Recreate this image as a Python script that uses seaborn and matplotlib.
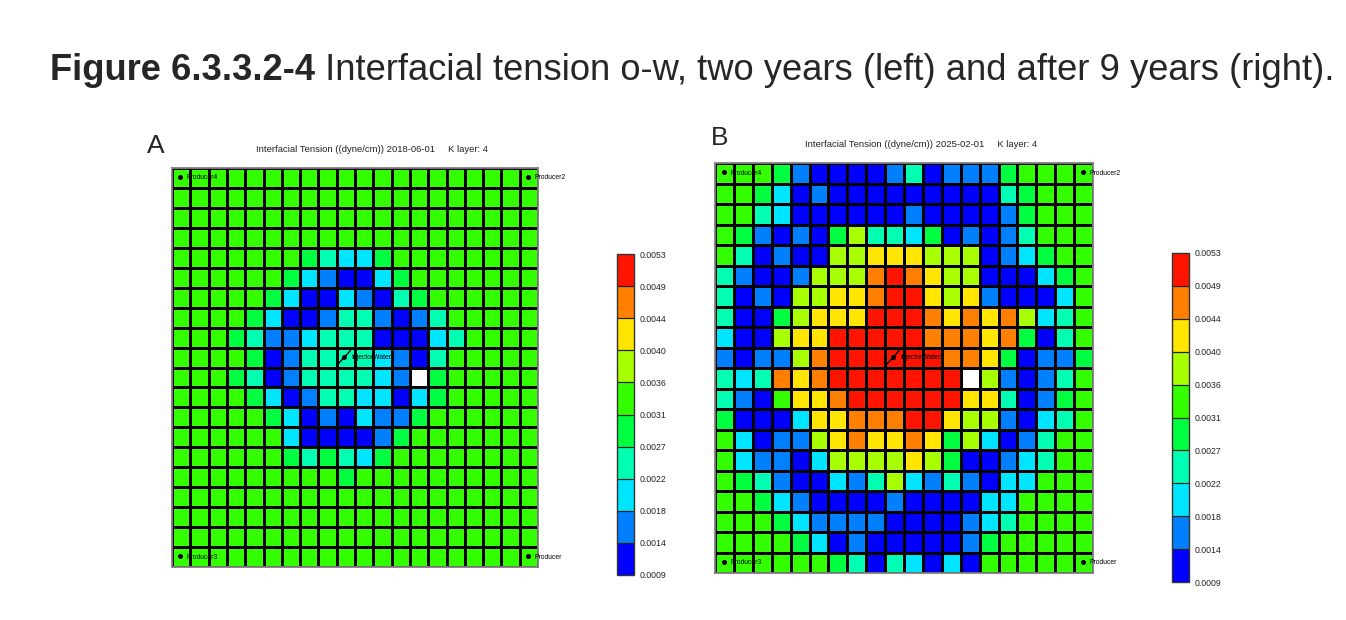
import numpy as np
import pandas as pd
import matplotlib
matplotlib.use("Agg")
import matplotlib.pyplot as plt
from matplotlib.colors import ListedColormap, BoundaryNorm
import seaborn as sns

sns.set_style("white")
plt.rcParams["font.family"] = ["Liberation Sans", "DejaVu Sans"]

# ---------------- data ----------------
level_bounds = [0.0009, 0.0014, 0.0018, 0.0022, 0.0027, 0.0031,
                0.0036, 0.0040, 0.0044, 0.0049, 0.0053]
level_labels = ["0.0009", "0.0014", "0.0018", "0.0022", "0.0027", "0.0031",
                "0.0036", "0.0040", "0.0044", "0.0049", "0.0053"]
level_colors = ["#0000FF", "#0080FF", "#00E5FF", "#00FFB2", "#00FF40",
                "#33FF00", "#A8FF00", "#FFE500", "#FF8000", "#FF1400"]
# representative tension of each colour band (dyne/cm)
level_values = [0.00115, 0.00160, 0.00200, 0.00245, 0.00290,
                0.00335, 0.00380, 0.00420, 0.00465, 0.00510]

# colour band read for each grid cell (row = J, column = I); W = inactive cell
grid_2018 = [
    "55555555555555555555",
    "55555555555555555555",
    "55555555555555555555",
    "55555555555555555555",
    "55555554322455555555",
    "55555542100245555555",
    "55555420021034555555",
    "55554200133101355555",
    "55543112333000235555",
    "55554013333210355555",
    "5554301333321W455555",
    "55554201332202455555",
    "55555420102114555555",
    "55555520000145555555",
    "55555543432455555555",
    "55555555545555555555",
    "55555555555555555555",
    "55555555555555555555",
    "55555555555555555555",
    "55555555555555555555",
]
grid_2025 = [
    "55541000013011145555",
    "55420100000000034555",
    "55320000001000014555",
    "54101046332401013555",
    "53010066777666012455",
    "31001666898766000245",
    "30106677899767100025",
    "30046777999878786235",
    "20067799999888784035",
    "10116899999988740114",
    "3238789999999W610135",
    "31057789999997730145",
    "40002778889976610235",
    "52011678778746201355",
    "52110266667640012355",
    "54310021362131022555",
    "55421000010000225555",
    "55542111100001235555",
    "55554201000001455555",
    "55555543032020555555",
]

well_names = ["Producer4", "Producer2", "Producer3", "Producer"]
well_cols = [0, 19, 0, 19]
well_rows = [0, 0, 19, 19]
injector_name = "InjectorWater2"
injector_col = 9
injector_row = 9

panel_letters = ["A", "B"]
panel_titles = ["Interfacial Tension ((dyne/cm)) 2018-06-01     K layer: 4",
                "Interfacial Tension ((dyne/cm)) 2025-02-01     K layer: 4"]


def to_frame(grid):
    vals = [[np.nan if ch == "W" else level_values[int(ch)] for ch in row] for row in grid]
    return pd.DataFrame(vals)


cmap = ListedColormap(level_colors)
cmap.set_bad("white")
norm = BoundaryNorm(level_bounds, cmap.N)

W, H = 1346, 620
fig = plt.figure(figsize=(W / 100, H / 100), dpi=100)


def fx(px):
    return px / W


def fy(py):
    return 1 - py / H


# axes boxes in pixels: (left, top, right, bottom)
heat_boxes = [(172, 168, 538, 567), (715, 163, 1093, 573)]
cbar_boxes = [(617, 254, 634, 575), (1172, 253, 1189, 582)]
letter_pos = [(147, 153), (711, 145)]
subtitle_pos = [(372, 152), (921, 147)]

for k, grid in enumerate([grid_2018, grid_2025]):
    l, t, r, b = heat_boxes[k]
    ax = fig.add_axes([fx(l), fy(b), fx(r) - fx(l), (b - t) / H])
    cl, ct, cr, cb_ = cbar_boxes[k]
    cax = fig.add_axes([fx(cl), fy(cb_), fx(cr) - fx(cl), (cb_ - ct) / H])

    sns.heatmap(to_frame(grid), ax=ax, cmap=cmap, norm=norm,
                linewidths=0.8, linecolor="black",
                xticklabels=False, yticklabels=False,
                cbar_ax=cax,
                cbar_kws=dict(ticks=level_bounds, drawedges=True))
    for s in ax.spines.values():
        s.set_visible(True)
        s.set_color("#808080")
        s.set_linewidth(1.3)

    cbar = ax.collections[0].colorbar
    cbar.outline.set_linewidth(1.0)
    cbar.outline.set_edgecolor("#333333")
    cbar.dividers.set_color("#222222")
    cbar.dividers.set_linewidth(0.9)
    cbar.ax.set_yticks(level_bounds)
    cbar.ax.set_yticklabels(level_labels)
    cbar.ax.tick_params(length=0, pad=4, labelsize=6.3, colors="#222222")

    # wells
    for name, c, rr in zip(well_names, well_cols, well_rows):
        ax.plot(c + 0.45, rr + 0.45, "o", color="black", ms=2.6, clip_on=False)
        ax.text(c + 0.8, rr + 0.5, name, fontsize=4.9, va="center",
                ha="left", color="black", clip_on=False)
    ic, ir = injector_col, injector_row
    ax.plot([ic + 0.1, ic + 0.75], [ir + 0.8, ir + 0.15], color="black", lw=1.0)
    ax.plot(ic + 0.42, ir + 0.47, "o", color="black", ms=2.6)
    ax.text(ic + 0.8, ir + 0.5, injector_name, fontsize=4.9, va="center",
            ha="left", color="black")

    lx, ly = letter_pos[k]
    fig.text(fx(lx), fy(ly), panel_letters[k], fontsize=19, ha="left",
             va="baseline")
    sx, sy = subtitle_pos[k]
    fig.text(fx(sx), fy(sy), panel_titles[k], fontsize=6.8, ha="center",
             va="baseline", color="#222222")

# main caption: bold label followed by normal text
t1 = fig.text(fx(50), fy(80), "Figure 6.3.3.2-4", fontsize=26.2,
              fontweight="bold", ha="left", va="baseline")
fig.canvas.draw()
bb = t1.get_window_extent(renderer=fig.canvas.get_renderer())
fig.text(bb.x1 / W, fy(80),
         " Interfacial tension o-w, two years (left) and after 9 years (right).",
         fontsize=26.2, ha="left", va="baseline")

fig.savefig("out.png", dpi=100)
